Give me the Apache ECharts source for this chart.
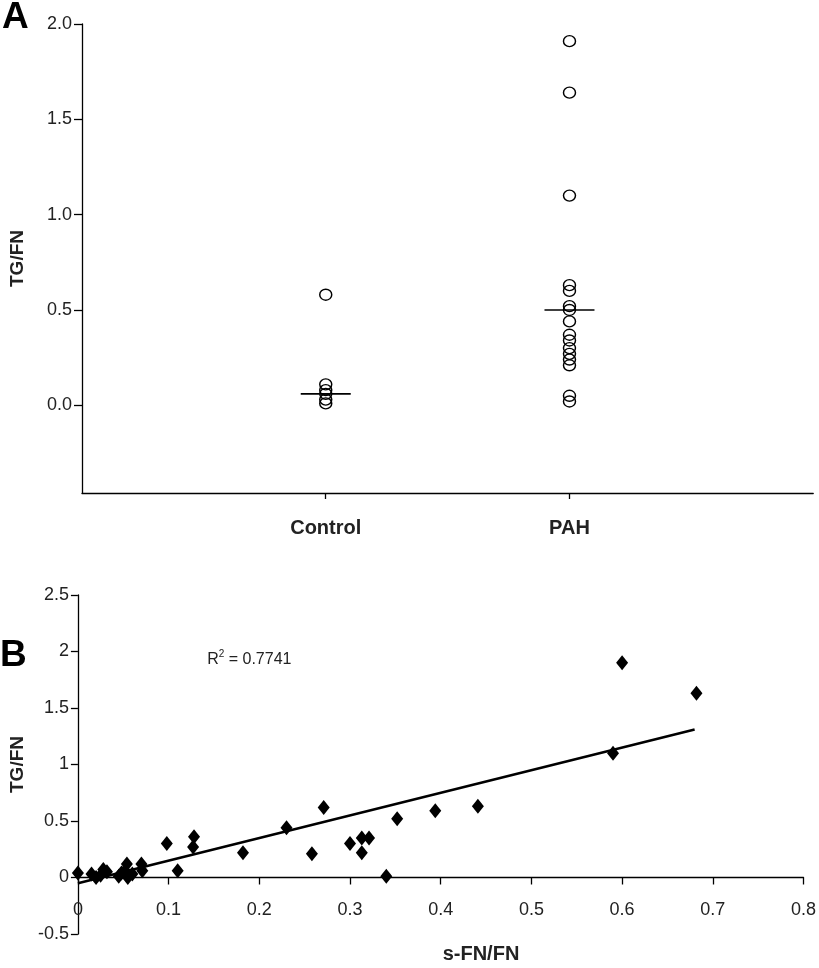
<!DOCTYPE html>
<html>
<head>
<meta charset="utf-8">
<script src="https://cdn.jsdelivr.net/npm/echarts@6/dist/echarts.min.js"></script>
<style>
html,body{margin:0;padding:0;background:#fff;}
#chart{width:819px;height:968px;}
</style>
</head>
<body>
<div id="chart"></div>
<script>
// ---- Panel A data ----
const catsA = ['', 'Control', 'PAH', ' '];
const controlVals = [0.58, 0.11, 0.08, 0.06, 0.03, 0.01];
const pahVals = [1.91, 1.64, 1.10, 0.63, 0.60, 0.52, 0.50, 0.44, 0.37, 0.34, 0.30, 0.27, 0.24, 0.21, 0.05, 0.02];
const medianCats = ['Control', 'PAH'];
const medianVals = [0.06, 0.50];
const yTicksA = [0, 0.5, 1.0, 1.5, 2.0];

// ---- Panel B data ----
const sfnX = [0.000, 0.015, 0.020, 0.025, 0.028, 0.032, 0.045, 0.048, 0.052, 0.054, 0.055, 0.060, 0.070, 0.071,
              0.098, 0.110, 0.128, 0.127, 0.182, 0.230, 0.258, 0.271, 0.300, 0.313, 0.321, 0.313, 0.340, 0.352,
              0.394, 0.441, 0.590, 0.600, 0.682];
const tgY  = [0.04, 0.03, 0.00, 0.02, 0.07, 0.05, 0.01, 0.04, 0.06, 0.12, 0.00, 0.03, 0.12, 0.06,
              0.30, 0.06, 0.36, 0.27, 0.22, 0.44, 0.21, 0.62, 0.30, 0.35, 0.35, 0.22, 0.01, 0.52,
              0.59, 0.63, 1.10, 1.90, 1.63];
const trendX = [0, 0.68];
const trendY = [-0.05, 1.31];
const r2Text = '0.7741';

const FONT = 'Liberation Sans, Arial, sans-serif';
const chart = echarts.init(document.getElementById('chart'), null, {renderer: 'canvas'});

const option = {
  backgroundColor: '#fff',
  animation: false,
  textStyle: {fontFamily: FONT},
  grid: [
    {left: 82, top: 24, right: 1, bottom: 475},
    {left: 74, top: 595, right: 14, bottom: 34}
  ],
  xAxis: [
    {
      gridIndex: 0, type: 'category', data: catsA, boundaryGap: false,
      axisLine: {onZero: false, lineStyle: {color: '#000', width: 1.3}},
      axisTick: {length: 6, lineStyle: {color: '#000', width: 1.3},
                 interval: (i, v) => v === 'Control' || v === 'PAH'},
      axisLabel: {fontFamily: FONT, fontSize: 20, fontWeight: 'bold', color: '#222', margin: 25, interval: 0},
      splitLine: {show: false}
    },
    {
      gridIndex: 1, type: 'value', min: 0, max: 0.8, interval: 0.1,
      axisLine: {onZero: true, lineStyle: {color: '#000', width: 1.3}},
      axisTick: {length: 7, lineStyle: {color: '#000', width: 1.3}},
      axisLabel: {fontFamily: FONT, fontSize: 18, color: '#222', margin: -33},
      splitLine: {show: false}
    }
  ],
  yAxis: [
    {
      gridIndex: 0, type: 'value', min: -0.46, max: 2.0,
      name: 'TG/FN', nameLocation: 'middle', nameGap: 55,
      nameTextStyle: {fontFamily: FONT, fontSize: 19, fontWeight: 'bold', color: '#222'},
      axisLine: {show: true, onZero: false, lineStyle: {color: '#000', width: 1.3}},
      axisTick: {show: true, length: 8, customValues: yTicksA, lineStyle: {color: '#000', width: 1.3}},
      axisLabel: {fontFamily: FONT, fontSize: 18, color: '#222', margin: 10,
                  customValues: yTicksA, formatter: v => v.toFixed(1)},
      splitLine: {show: false}
    },
    {
      gridIndex: 1, type: 'value', min: -0.5, max: 2.5, interval: 0.5,
      name: 'TG/FN', nameLocation: 'middle', nameGap: 46,
      nameTextStyle: {fontFamily: FONT, fontSize: 19, fontWeight: 'bold', color: '#222'},
      axisLine: {show: true, onZero: false, lineStyle: {color: '#000', width: 1.3}},
      axisTick: {show: true, length: 7, lineStyle: {color: '#000', width: 1.3}},
      axisLabel: {fontFamily: FONT, fontSize: 18, color: '#222', margin: 9},
      splitLine: {show: false}
    }
  ],
  graphic: [
    {type: 'text', x: 2, y: 18, style: {text: 'A', font: 'bold 37px ' + FONT, fill: '#000', textVerticalAlign: 'middle'}},
    {type: 'text', x: 0, y: 656, style: {text: 'B', font: 'bold 37px ' + FONT, fill: '#000', textVerticalAlign: 'middle'}},
    {type: 'text', x: 481, y: 954, style: {text: 's-FN/FN', font: 'bold 20px ' + FONT, fill: '#222', textAlign: 'center', textVerticalAlign: 'middle'}}
  ],
  series: [
    {
      type: 'scatter', xAxisIndex: 0, yAxisIndex: 0,
      data: medianCats.map((c, i) => [c, medianVals[i]]),
      symbol: 'rect', symbolSize: [50, 1.6],
      itemStyle: {color: '#000', opacity: 1}, z: 3
    },
    {
      type: 'scatter', xAxisIndex: 0, yAxisIndex: 0,
      data: controlVals.map(v => ['Control', v]),
      symbol: 'circle', symbolSize: [12, 11],
      itemStyle: {color: 'rgba(0,0,0,0)', borderColor: '#000', borderWidth: 1.4, opacity: 1}, z: 4
    },
    {
      type: 'scatter', xAxisIndex: 0, yAxisIndex: 0,
      data: pahVals.map(v => ['PAH', v]),
      symbol: 'circle', symbolSize: [12, 11],
      itemStyle: {color: 'rgba(0,0,0,0)', borderColor: '#000', borderWidth: 1.4, opacity: 1}, z: 4
    },
    {
      type: 'line', xAxisIndex: 1, yAxisIndex: 1,
      data: trendX.map((x, i) => [x, trendY[i]]),
      showSymbol: false, symbol: 'none',
      lineStyle: {color: '#000', width: 2.6}, z: 3,
      markPoint: {
        symbol: 'rect', symbolSize: 0,
        label: {
          show: true, position: 'right', offset: [0, 0],
          formatter: 'R{sup|2} = ' + r2Text,
          fontFamily: FONT, fontSize: 16, color: '#222',
          rich: {sup: {fontSize: 10, verticalAlign: 'top', padding: [0, 0, 10, 0], fontFamily: FONT, color: '#222'}}
        },
        data: [{coord: [0.137, 1.93]}]
      }
    },
    {
      type: 'scatter', xAxisIndex: 1, yAxisIndex: 1,
      data: sfnX.map((x, i) => [x, tgY[i]]),
      symbol: 'diamond', symbolSize: [12, 15],
      itemStyle: {color: '#000', opacity: 1}, z: 4
    }
  ]
};
chart.setOption(option);
</script>
</body>
</html>
